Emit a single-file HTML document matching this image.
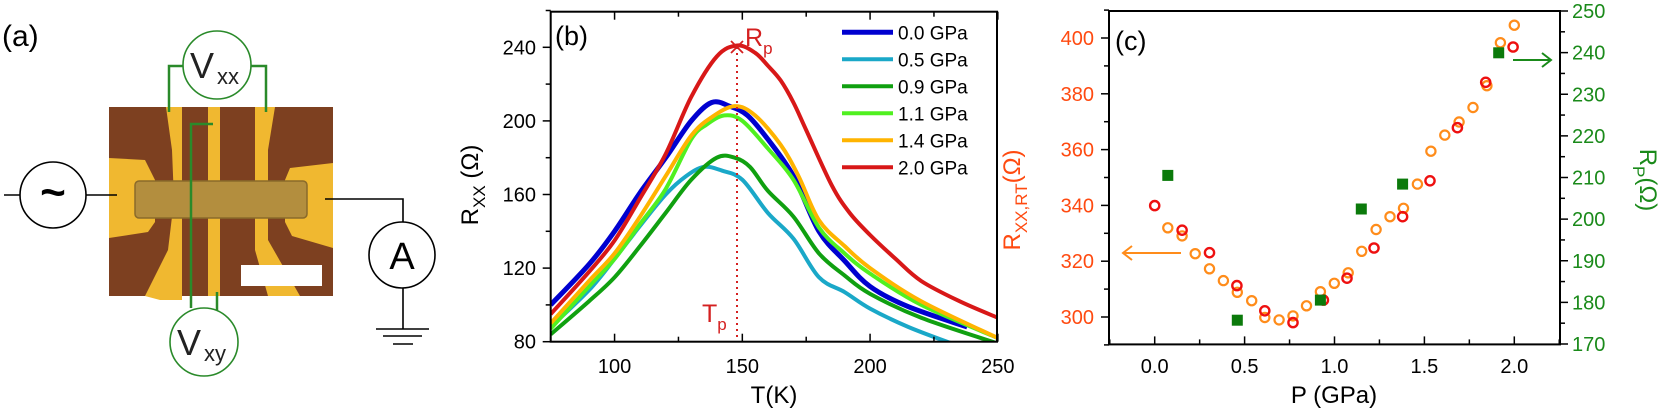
<!DOCTYPE html>
<html><head><meta charset="utf-8"><style>
html,body{margin:0;padding:0;background:#fff;}
svg{display:block;font-family:"Liberation Sans",sans-serif;}
</style></head><body>
<svg id="s" width="1661" height="420" viewBox="0 0 1661 420" xmlns="http://www.w3.org/2000/svg">
<!-- Panel a -->
<text x="2" y="46" font-size="30">(a)</text>
<rect x="109" y="107" width="224" height="189" fill="#7d4020"/>
<path d="M166,107 L182,107 L182,300 L160,300 L145,296 L168,250 L174,200 L172,150 Z" fill="#f0b830"/>
<path d="M208,107 L220,107 L220,296 L208,296 Z" fill="#f0b830"/>
<path d="M255,107 L275,107 L268,150 L268,240 L300,296 L268,296 L255,250 Z" fill="#f0b830"/>
<path d="M109,158 L145,160 L155,180 L155,222 L148,232 L109,238 Z" fill="#f0b830"/>
<path d="M333,163 L290,168 L285,180 L285,222 L292,236 L333,248 Z" fill="#f0b830"/>
<rect x="135" y="181" width="172" height="37" rx="4" fill="#b38e3e" stroke="#8a6a2a" stroke-width="1.5"/>
<rect x="241" y="265" width="81" height="21" fill="#fff"/>
<g stroke="#2a8a2a" stroke-width="2.5" fill="none">
<circle cx="217" cy="65" r="34" stroke-width="1.6"/>
<circle cx="204" cy="342" r="34" stroke-width="1.6"/>
<path d="M183,66 L169,66 L169,112"/><path d="M251,66 L266,66 L266,112"/>
<path d="M213,124 L191,124 L191,308"/><path d="M217,292 L217,310"/>
</g>
<text x="190" y="78" font-size="36" fill="#222">V</text><text x="217" y="84" font-size="22" fill="#222">xx</text>
<text x="177" y="355" font-size="36" fill="#222">V</text><text x="204" y="361" font-size="22" fill="#222">xy</text>
<g stroke="#000" stroke-width="1.6" fill="none">
<circle cx="53" cy="195" r="33"/><circle cx="402" cy="255" r="33"/>
<path d="M4,195 L20,195 M86,195 L117,195"/>
<path d="M325,199 L403,199 L403,222 M403,288 L403,329"/>
<path d="M376,329 L429,329 M383,336 L422,336 M393,344 L413,344"/>
</g>
<text x="53" y="207" font-size="44" font-weight="bold" text-anchor="middle">~</text>
<text x="402" y="269" font-size="38" text-anchor="middle">A</text>

<!-- Panel b -->
<g id="b"></g>
<text x="555" y="45" font-size="27">(b)</text>
<text x="745" y="46" font-size="25" fill="#d42020">R<tspan font-size="17" dy="8">p</tspan></text>
<text x="702" y="322" font-size="25" fill="#d42020">T<tspan font-size="17" dy="8">p</tspan></text>
<text transform="translate(478,185) rotate(-90)" font-size="24" text-anchor="middle">R<tspan font-size="17" dy="7">XX</tspan><tspan dy="-7"> (Ω)</tspan></text>
<text x="774" y="403" font-size="24" text-anchor="middle">T(K)</text>

<!-- Panel c -->
<g id="c"></g>
<text x="1115" y="50" font-size="27">(c)</text>
<text transform="translate(1020,200) rotate(-90)" font-size="24" fill="#ff4a10" text-anchor="middle">R<tspan font-size="17" dy="7">XX,RT</tspan><tspan dy="-7">(Ω)</tspan></text>
<text transform="translate(1640,180) rotate(90)" font-size="24" fill="#1a8a1a" text-anchor="middle">R<tspan font-size="17" dy="7">P</tspan><tspan dy="-7">(Ω)</tspan></text>
<text x="1334" y="403" font-size="24" text-anchor="middle">P (GPa)</text>
</svg>
<script>
const NS="http://www.w3.org/2000/svg";
function el(p,t,a,txt){const e=document.createElementNS(NS,t);for(const k in a)e.setAttribute(k,a[k]);if(txt!==undefined)e.textContent=txt;p.appendChild(e);return e;}
function smooth(pts){let d="M"+pts[0][0]+","+pts[0][1];for(let i=0;i<pts.length-1;i++){const p0=pts[Math.max(0,i-1)],p1=pts[i],p2=pts[i+1],p3=pts[Math.min(pts.length-1,i+2)];
const c1=[p1[0]+(p2[0]-p0[0])/6,p1[1]+(p2[1]-p0[1])/6],c2=[p2[0]-(p3[0]-p1[0])/6,p2[1]-(p3[1]-p1[1])/6];d+=" C"+c1+" "+c2+" "+p2;}return d;}
// panel b
const B=document.getElementById("b");
const bx=T=>550.7+(T-75)*2.555, by=R=>341.7-(R-80)*1.84;
el(B,"clipPath",{id:"cb"});el(document.getElementById("cb"),"rect",{x:551,y:12,width:446,height:330});
const curves=[
["#0000d0",5,[[75,100],[90,122],[100,140],[110,161],[120,180],[130,200],[138,210],[145,208],[152,203],[160,190],[170,170],[180,140],[190,124],[200,110],[215,99],[238,88]]],
["#1aa8c8",4,[[75,88],[90,108],[100,125],[110,143],[120,160],[128,170],[135,175],[142,173],[150,168],[160,150],[170,136],[180,115],[190,107],[200,98],[215,88],[232,79]]],
["#10a010",4,[[75,84],[90,102],[100,115],[110,132],[120,150],[130,168],[140,180],[147,180],[153,175],[160,162],[170,148],[180,128],[190,116],[200,106],[220,93],[250,79]]],
["#50f020",4,[[75,87],[90,110],[100,125],[110,144],[120,163],[130,190],[136,198],[143,203],[150,200],[160,185],[170,168],[180,142],[190,128],[200,117],[220,100],[250,82]]],
["#ffb400",4,[[75,90],[90,113],[100,128],[110,148],[120,170],[130,192],[138,202],[147,208],[155,203],[165,187],[172,170],[180,146],[190,132],[200,120],[220,102],[250,82]]],
["#d81818",4,[[75,95],[90,118],[100,135],[110,158],[120,182],[130,213],[140,235],[148,241],[155,237],[160,230],[165,222],[170,210],[175,195],[185,165],[192,150],[200,138],[210,125],[220,113],[235,102],[250,93]]]];
const cg=el(B,"g",{"clip-path":"url(#cb)"});
curves.forEach(c=>el(cg,"path",{d:smooth(c[2].map(p=>[bx(p[0]),by(p[1])])),stroke:c[0],"stroke-width":c[1],fill:"none"}));
el(B,"line",{x1:737,y1:47,x2:737,y2:342,stroke:"#d42020","stroke-width":2,"stroke-dasharray":"2,4"});
el(B,"path",{d:"M731,41 L743,53 M743,41 L731,53",stroke:"#d42020","stroke-width":1.8});
el(B,"rect",{x:550.7,y:11.7,width:446.3,height:330,fill:"none",stroke:"#000","stroke-width":2});
for(let T=75;T<=250;T+=25){const x=bx(T),L=(T%50==0)?8:5;el(B,"line",{x1:x,y1:341.7,x2:x,y2:341.7-L,stroke:"#000","stroke-width":1.5});el(B,"line",{x1:x,y1:11.7,x2:x,y2:11.7+L,stroke:"#000","stroke-width":1.5});
if(T%50==0)el(B,"text",{x:x,y:373,"font-size":20,"text-anchor":"middle"},T);}
for(let R=80;R<=260;R+=20){const y=by(R),L=(R%40==0)?8:5;el(B,"line",{x1:550.7,y1:y,x2:550.7-L,y2:y,stroke:"#000","stroke-width":1.5});
if(R%40==0&&R<=240)el(B,"text",{x:536,y:y+7,"font-size":20,"text-anchor":"end"},R);}
const leg=[["#0000d0","0.0 GPa"],["#1aa8c8","0.5 GPa"],["#10a010","0.9 GPa"],["#50f020","1.1 GPa"],["#ffb400","1.4 GPa"],["#d81818","2.0 GPa"]];
leg.forEach((l,i)=>{const y=32.3+i*27;el(B,"line",{x1:842,y1:y,x2:893,y2:y,stroke:l[0],"stroke-width":i==0?5:4});el(B,"text",{x:898,y:y+7,"font-size":19},l[1]);});
// panel c
const C=document.getElementById("c");
el(C,"rect",{x:1109,y:11,width:451,height:333.4,fill:"none",stroke:"#000","stroke-width":2});
const cy=R=>38+(400-R)*2.79, cx=P=>1154.7+P*179.8, ry=v=>11+(250-v)*4.1625;
for(let R=290;R<=410;R+=10){const y=cy(R),L=R%20==0?8:5;el(C,"line",{x1:1109,y1:y,x2:1109-L,y2:y,stroke:"#000","stroke-width":1.5});
if(R%20==0&&R>=300&&R<=400)el(C,"text",{x:1094,y:y+7,"font-size":20,fill:"#ff4a10","text-anchor":"end"},R);}
for(let v=170;v<=250;v+=5){const y=ry(v),L=v%10==0?8:5;el(C,"line",{x1:1560,y1:y,x2:1560+L,y2:y,stroke:"#000","stroke-width":1.5});
if(v%10==0)el(C,"text",{x:1572,y:y+7,"font-size":20,fill:"#1a8a1a"},v);}
for(let P=-0.25;P<=2.26;P+=0.25){const x=cx(P),M=Math.abs(P*2-Math.round(P*2))<0.01,L=M?8:5;el(C,"line",{x1:x,y1:344.4,x2:x,y2:344.4-L,stroke:"#000","stroke-width":1.5});
if(M&&P>=0)el(C,"text",{x:x,y:373,"font-size":20,"text-anchor":"middle"},P.toFixed(1));}
const org=[[1167.8,227.8],[1182.1,235.9],[1195.2,253.7],[1209.5,268.8],[1223.4,280.6],[1237.3,292.3],[1251.7,300.7],[1264.8,317.5],[1279.1,319.9],[1293,315.9],[1306.5,305.8],[1320.4,291.7],[1334.3,283.3],[1348.2,272.8],[1361.7,251.3],[1376.1,229.5],[1390,216.7],[1403.5,208.3],[1417.4,184.1],[1430.9,151.2],[1444.8,135.1],[1459.1,122],[1473,107.5],[1486.9,85.7],[1500.4,42.7],[1514.3,25.2]];
const red=[[1154.7,205.6],[1182.1,230.2],[1209.5,252.7],[1236.9,285.6],[1264.8,310.8],[1293,322.6],[1323.4,300.1],[1347,278.2],[1374,248],[1402.6,216.7],[1430,180.8],[1457.4,127.7],[1485.7,82.3],[1513.1,47]];
const grn=[[1167.8,175.4],[1237.3,320.2],[1320.4,300.1],[1361.3,209],[1402.6,184.1],[1498.7,52.8]];
org.forEach(p=>el(C,"circle",{cx:p[0],cy:p[1],r:4.6,fill:"none",stroke:"#ff8c1a","stroke-width":2.2}));
red.forEach(p=>el(C,"circle",{cx:p[0],cy:p[1],r:4.6,fill:"none",stroke:"#ee1010","stroke-width":2.4}));
grn.forEach(p=>el(C,"rect",{x:p[0]-5.5,y:p[1]-5.5,width:11,height:11,fill:"#0b7a0b"}));
el(C,"path",{d:"M1181,253 L1123,253 M1132,246 L1123,253 L1132,260",stroke:"#ff8c1a","stroke-width":2,fill:"none"});
el(C,"path",{d:"M1513,60 L1551,60 M1542,53 L1551,60 L1542,67",stroke:"#1a8a1a","stroke-width":2,fill:"none"});
</script>
</body></html>
